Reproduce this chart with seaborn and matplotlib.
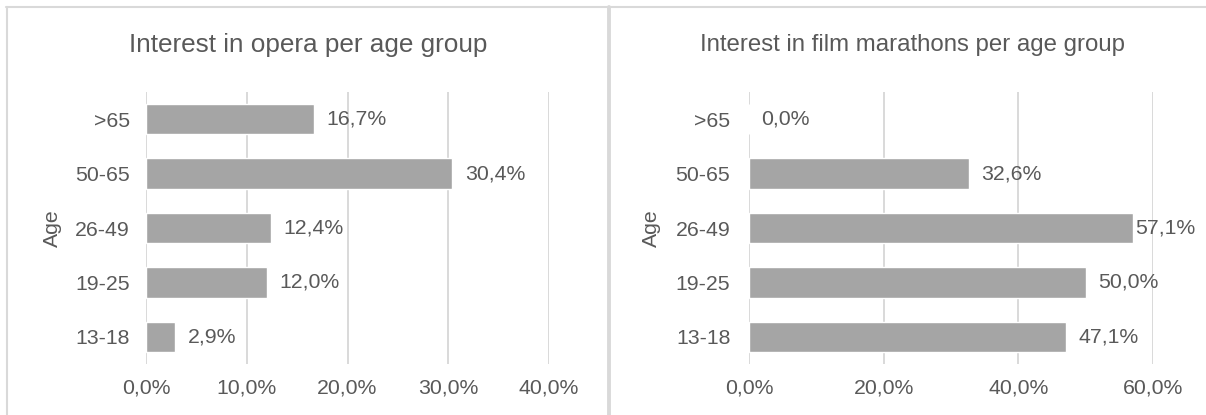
import matplotlib
matplotlib.use("Agg")
import matplotlib.pyplot as plt
from matplotlib.lines import Line2D
from matplotlib.ticker import FuncFormatter, MultipleLocator
import seaborn as sns
import pandas as pd

# Age groups, listed top to bottom as they appear on the axis
age_groups = [">65", "50-65", "26-49", "19-25", "13-18"]
opera_interest = [16.7, 30.4, 12.4, 12.0, 2.9]
film_interest = [0.0, 32.6, 57.1, 50.0, 47.1]

titles = ["Interest in opera per age group", "Interest in film marathons per age group"]
x_max = [40, 60]
x_step = [10, 20]

sns.set_theme(style="white")
plt.rcParams["font.family"] = ["Liberation Sans", "DejaVu Sans"]

TEXT = "#595959"
GRID = "#D9D9D9"
BAR = "#A5A5A5"
BORDER = "#D9D9D9"
FS = 15.3

W, H = 1206, 415
fig = plt.figure(figsize=(W / 100, H / 100), dpi=100)


def pct(v, _=None):
    return f"{v:.1f}%".replace(".", ",")


def add_panel(rect, values, title, xmax, step, title_size, title_x, ypad, label_x):
    ax = fig.add_axes(rect)
    df = pd.DataFrame({"Age": age_groups, "Interest": values})
    sns.barplot(data=df, x="Interest", y="Age", orient="h", color=BAR,
                saturation=1, width=0.56, ax=ax, zorder=3)
    ax.set_xlim(0, xmax)
    ax.set_ylim(4.5, -0.5)
    ax.xaxis.set_major_locator(MultipleLocator(step))
    ax.xaxis.set_major_formatter(FuncFormatter(pct))
    ax.grid(axis="x", color=GRID, linewidth=1.4, zorder=0)
    ax.grid(axis="y", visible=False)
    for s in ax.spines.values():
        s.set_visible(False)
    ax.tick_params(axis="both", length=0, labelsize=FS, colors=TEXT)
    ax.tick_params(axis="y", pad=ypad)
    ax.tick_params(axis="x", pad=10.5)
    ax.set_xlabel("")
    ax.set_ylabel("Age", fontsize=FS, color=TEXT)
    ax.yaxis.set_label_coords(label_x, 0.5)
    texts = ax.bar_label(ax.containers[0], labels=[pct(v) for v in values],
                         padding=9, fontsize=FS, color=TEXT)
    # Labels of bars that nearly reach the axis end sit tight against the bar
    for t, v in zip(texts, values):
        if v / xmax > 0.9:
            t.xyann = (1.5, t.xyann[1])
    fig.text(title_x, 1 - 45 / H, title, ha="center", va="center",
             fontsize=title_size, color=TEXT)
    return ax


ax_bottom = 1 - 364 / H
ax_height = (364 - 92) / H
add_panel([146 / W, ax_bottom, 403 / W, ax_height], opera_interest,
          titles[0], x_max[0], x_step[0], 18.8, 308 / W, 11.5, -0.208)
add_panel([749 / W, ax_bottom, 404 / W, ax_height], film_interest,
          titles[1], x_max[1], x_step[1], 17.3, 912 / W, 13.5, -0.218)

# Chart frames: top edge, outer left edge and the divider between the charts
fig.add_artist(Line2D([6 / W, 1], [1 - 7.5 / H, 1 - 7.5 / H], transform=fig.transFigure,
                      color=BORDER, linewidth=1.5))
fig.add_artist(Line2D([7 / W, 7 / W], [0, 1 - 7.5 / H], transform=fig.transFigure,
                      color=BORDER, linewidth=1.5))
fig.add_artist(Line2D([609 / W, 609 / W], [0, 1 - 7.5 / H], transform=fig.transFigure,
                      color=BORDER, linewidth=2.8))

fig.savefig("out.png", dpi=100, facecolor="white")
